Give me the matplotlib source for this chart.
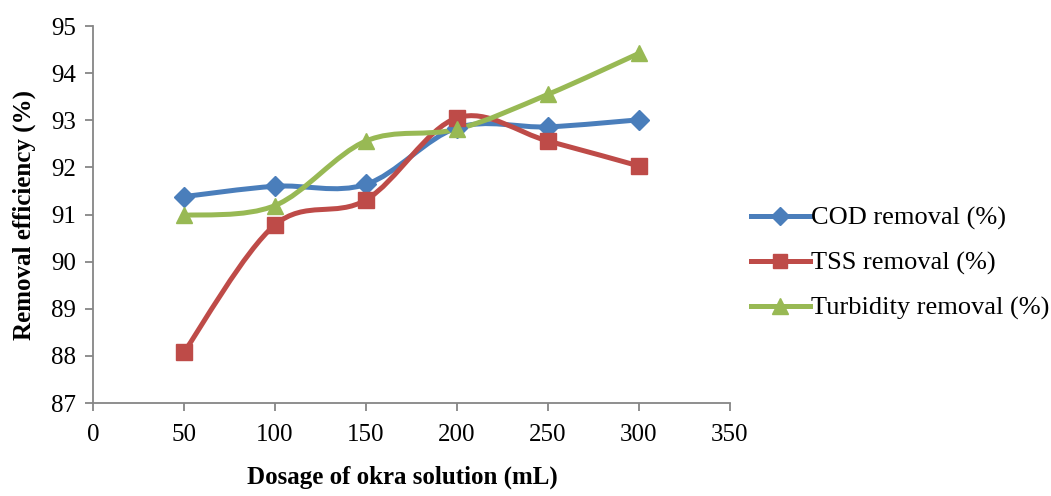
import numpy as np
import matplotlib.pyplot as plt
from matplotlib.path import Path
from matplotlib.patches import PathPatch
from matplotlib.lines import Line2D

plt.rcParams['font.family'] = 'Liberation Serif'

dosage = [50, 100, 150, 200, 250, 300]
cod = [91.38, 91.60, 91.64, 92.84, 92.86, 93.01]
tss = [88.08, 90.78, 91.31, 93.05, 92.56, 92.03]
turbidity = [90.98, 91.19, 92.56, 92.81, 93.55, 94.42]

series = [
    ('COD removal (%)', cod, '#4a7ebb', 'D', 10),
    ('TSS removal (%)', tss, '#be4b48', 's', 11.5),
    ('Turbidity removal (%)', turbidity, '#98b954', '^', 12),
]


# excel-style smoothed line (cubic bezier through the points)
def smooth_path(x, y):
    pts = np.column_stack([x, y]).astype(float)
    n = len(pts)
    verts = [pts[0]]
    codes = [Path.MOVETO]
    for i in range(n - 1):
        p0 = pts[i - 1] if i > 0 else pts[i]
        p1 = pts[i]
        p2 = pts[i + 1]
        p3 = pts[i + 2] if i + 2 < n else pts[i + 1]
        verts += [p1 + (p2 - p0) / 6, p2 - (p3 - p1) / 6, p2]
        codes += [Path.CURVE4] * 3
    return Path(verts, codes)


fig = plt.figure(figsize=(10.51, 4.96), dpi=100)
ax = fig.add_axes([0.0885, 0.1875, 0.606, 0.760])

handles = []
for name, vals, col, mk, ms in series:
    patch = PathPatch(smooth_path(dosage, vals), facecolor='none', edgecolor=col,
                      lw=3.6, capstyle='round', joinstyle='round', zorder=2)
    ax.add_patch(patch)
    ax.plot(dosage, vals, ls='none', marker=mk, ms=ms, color=col, zorder=3)
    handles.append(Line2D([], [], color=col, lw=3.6, marker=mk, ms=ms - 1, label=name))

ax.set_xlim(0, 350)
ax.set_ylim(87, 95)
ax.set_xticks(range(0, 351, 50))
ax.set_yticks(range(87, 96))

for s in ['top', 'right']:
    ax.spines[s].set_visible(False)
for s in ['left', 'bottom']:
    ax.spines[s].set_color('#868686')
    ax.spines[s].set_linewidth(1.3)
ax.tick_params(colors='#868686', labelcolor='black', labelsize=18, length=6, width=1.3)
ax.tick_params(axis='x', pad=9)
ax.tick_params(axis='y', pad=6)

ax.set_xlabel('Dosage of okra solution (mL)', fontsize=18, fontweight='bold')
ax.set_ylabel('Removal efficiency (%)', fontsize=18, fontweight='bold')
ax.xaxis.set_label_coords(0.486, -0.196)
ax.yaxis.set_label_coords(-0.108, 0.5)
ax.xaxis.label.set_va('center')
ax.yaxis.label.set_va('center')

fig.legend(handles=handles, loc='center left', bbox_to_anchor=(0.715, 0.469),
           frameon=False, fontsize=19, handlelength=2.2, handletextpad=0.05,
           labelspacing=0.8, borderpad=0, borderaxespad=0)

fig.savefig('out.png', dpi=100)
